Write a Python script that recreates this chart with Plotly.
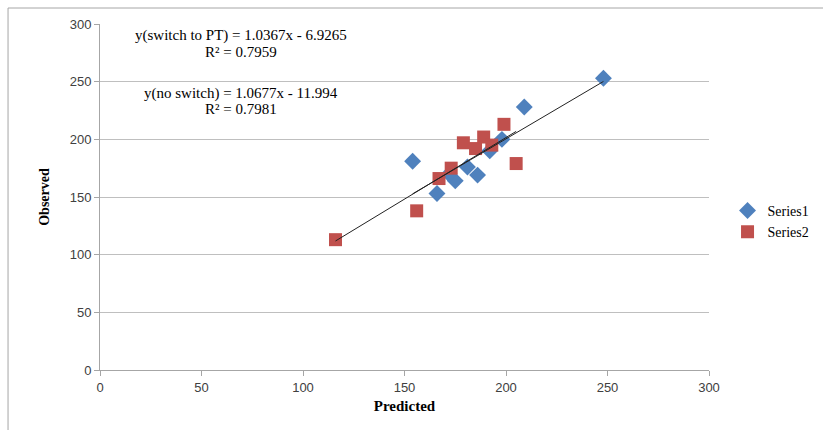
import plotly.graph_objects as go

# Series1 (blue diamonds): predicted vs observed
s1_pred = [248, 209, 198, 192, 154, 181, 186, 175, 166, 172]
s1_obs = [253, 228, 200, 190, 181, 176, 169, 164, 153, 170]
# Series2 (red squares)
s2_pred = [116, 156, 167, 173, 179, 185, 189, 193, 199, 205]
s2_obs = [113, 138, 166, 175, 197, 192, 202, 195, 213, 179]

# trendline coefficients (as printed on the chart)
t1 = (1.0367, -6.9265)
t2 = (1.0677, -11.994)
eq_lines = ["y(switch to PT) = 1.0367x - 6.9265", "R² = 0.7959",
            "y(no switch) = 1.0677x - 11.994", "R² = 0.7981"]
eq_pix_y = [36, 52, 94, 109]

x_ticks = [0, 50, 100, 150, 200, 250, 300]
y_ticks = [0, 50, 100, 150, 200, 250, 300]

SERIF = "Liberation Serif"
SANS = "Liberation Sans"

fig = go.Figure()
fig.add_trace(go.Scatter(x=s1_pred, y=s1_obs, mode="markers", name="Series1",
                         marker=dict(symbol="diamond", size=13, color="#4F81BD")))
fig.add_trace(go.Scatter(x=s2_pred, y=s2_obs, mode="markers", name="Series2",
                         marker=dict(symbol="square", size=13, color="#C0504D")))

for (m, b), xs in ((t1, s1_pred), (t2, s2_pred)):
    x0, x1 = min(xs), max(xs)
    fig.add_trace(go.Scatter(x=[x0, x1], y=[m * x0 + b, m * x1 + b], mode="lines",
                             line=dict(color="#222222", width=1), showlegend=False,
                             hoverinfo="skip"))

annots = [dict(x=0.2315, y=(370 - py) / 346, xref="paper", yref="paper", text=t,
               showarrow=False, xanchor="center", yanchor="middle",
               font=dict(family=SERIF, size=15, color="#000"))
          for t, py in zip(eq_lines, eq_pix_y)]

fig.update_layout(
    width=823, height=430,
    margin=dict(l=100, r=114, t=24, b=60, autoexpand=False),
    paper_bgcolor="white", plot_bgcolor="white",
    font=dict(family=SERIF, size=14, color="#000"),
    showlegend=True,
    legend=dict(xref="container", yref="container", x=0.884, y=0.485,
                xanchor="left", yanchor="middle",
                font=dict(family=SERIF, size=14), itemwidth=30),
    annotations=annots,
    shapes=[
        dict(type="line", xref="paper", yref="paper", x0=-0.151, x1=1.2,
             y0=1.0462, y1=1.0462, line=dict(color="#A6A6A6", width=1)),
        dict(type="line", xref="paper", yref="paper", x0=-0.151, x1=-0.151,
             y0=1.0462, y1=-0.2, line=dict(color="#A6A6A6", width=1)),
    ],
)
fig.update_xaxes(range=[0, 300], tickvals=x_ticks, showgrid=False, showline=True,
                 linecolor="#A6A6A6", ticks="outside", ticklen=5, tickcolor="#A6A6A6",
                 zeroline=False, automargin=False,
                 title=dict(text="<b>Predicted</b>", standoff=6,
                            font=dict(family=SERIF, size=15)),
                 tickfont=dict(family=SANS, size=13, color="#404040"))
fig.update_yaxes(range=[0, 300], tickvals=y_ticks, showgrid=True, gridcolor="#BFBFBF",
                 showline=True, linecolor="#A6A6A6", ticks="outside", ticklen=5,
                 tickcolor="#A6A6A6", zeroline=False, automargin=False,
                 title=dict(text="<b>Observed</b>", standoff=16,
                            font=dict(family=SERIF, size=14)),
                 tickfont=dict(family=SANS, size=13, color="#404040"))
fig.write_html("out.html")
